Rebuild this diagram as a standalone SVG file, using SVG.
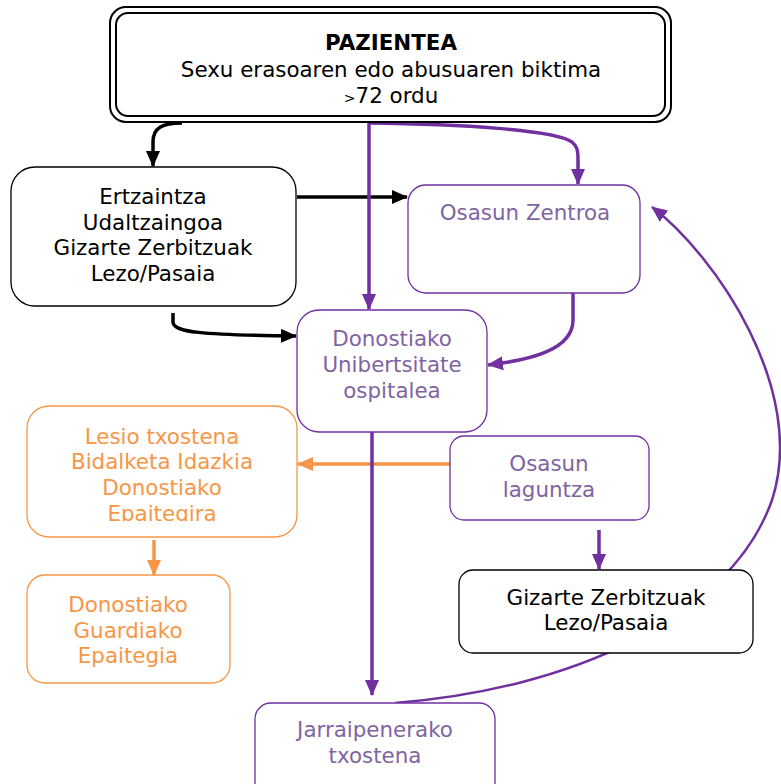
<svg xmlns="http://www.w3.org/2000/svg" width="781" height="784" viewBox="0 0 781 784">
<style>
text{font-family:"DejaVu Sans","Verdana",sans-serif;font-size:21.4px;text-anchor:middle}
.bk{fill:#000}
.pu{fill:#8064A2}
.or{fill:#F79646}
.nb{fill:#fff;stroke:#000;stroke-width:1.3}
.np{fill:#fff;stroke:#7030A0;stroke-width:1.3}
.no{fill:#fff;stroke:#F79646;stroke-width:1.3}
.cb{fill:none;stroke:#000;stroke-width:3.5}
.cp{fill:none;stroke:#7030A0;stroke-width:3.5}
.co{fill:none;stroke:#F79646;stroke-width:3.5}
.ct{fill:none;stroke:#7030A0;stroke-width:2.5}
</style>
<defs>
<marker id="ab" markerUnits="userSpaceOnUse" markerWidth="16" markerHeight="14" viewBox="0 0 16 14" refX="15" refY="7" orient="auto"><path d="M0,0 L16,7 L0,14 z" fill="#000"/></marker>
<marker id="ap" markerUnits="userSpaceOnUse" markerWidth="16" markerHeight="14" viewBox="0 0 16 14" refX="15" refY="7" orient="auto"><path d="M0,0 L16,7 L0,14 z" fill="#7030A0"/></marker>
<marker id="ao" markerUnits="userSpaceOnUse" markerWidth="16" markerHeight="14" viewBox="0 0 16 14" refX="15" refY="7" orient="auto"><path d="M0,0 L16,7 L0,14 z" fill="#F79646"/></marker>
<clipPath id="clipL"><rect x="27" y="406" width="271" height="115"/></clipPath>
</defs>
<g id="connectors">
<path class="ct" d="M395,703 C565,690 730,620 772,500 C808,390 715,255 652,207" marker-end="url(#ap)"/>
<path class="cb" d="M182,123 C162,123 153,128 153,142 L153,166" marker-end="url(#ab)"/>
<path class="cb" d="M297,197 L407,197" marker-end="url(#ab)"/>
<path class="cb" d="M173,313 L173,322 C173,332 200,335 296,336" marker-end="url(#ab)"/>
<path class="cp" d="M369,122 L369,309" marker-end="url(#ap)"/>
<path class="cp" d="M369,123 C460,124 555,130 572,142 C577,146 578,150 578,160 L578,184" marker-end="url(#ap)"/>
<path class="cp" d="M573,293 L573,320 C573,350 530,360 488,365" marker-end="url(#ap)"/>
<path class="cp" d="M459,393 L459,430" marker-end="url(#ap)"/>
<path class="co" d="M450,464 L298,464" marker-end="url(#ao)"/>
<path class="co" d="M154,540 L154,575" marker-end="url(#ao)"/>
<path class="cp" d="M372,429 L372,695" marker-end="url(#ap)"/>
<path class="cp" d="M599,530 L599,569" marker-end="url(#ap)"/>
</g>
<g id="pazientea">
<rect x="110" y="7" width="561" height="115" rx="16" fill="#fff" stroke="#000" stroke-width="2"/>
<rect x="116" y="13" width="549" height="103" rx="12" fill="none" stroke="#000" stroke-width="2"/>
<text x="391" y="50" class="bk" font-weight="bold">PAZIENTEA</text>
<text x="391" y="77" class="bk">Sexu erasoaren edo abusuaren biktima</text>
<text x="391" y="103" class="bk"><tspan font-size="14">&gt;</tspan>72 ordu</text>
</g>
<g id="ertzaintza">
<rect class="nb" x="11" y="167" width="285" height="139" rx="24"/>
<text class="bk" x="153" y="204">Ertzaintza</text>
<text class="bk" x="153" y="230">Udaltzaingoa</text>
<text class="bk" x="153" y="255">Gizarte Zerbitzuak</text>
<text class="bk" x="153" y="281">Lezo/Pasaia</text>
</g>
<g id="osasun-zentroa">
<rect class="np" x="408" y="185" width="232" height="108" rx="18"/>
<text class="pu" x="525" y="220">Osasun Zentroa</text>
</g>
<g id="donostiako-ospitalea">
<rect class="np" x="297" y="310" width="190" height="122" rx="22"/>
<text class="pu" x="392" y="346">Donostiako</text>
<text class="pu" x="392" y="372">Unibertsitate</text>
<text class="pu" x="392" y="398">ospitalea</text>
</g>
<g id="osasun-laguntza">
<rect class="np" x="450" y="436" width="199" height="84" rx="14"/>
<text class="pu" x="549" y="471">Osasun</text>
<text class="pu" x="549" y="497">laguntza</text>
</g>
<g id="lesio-txostena">
<rect class="no" x="27" y="406" width="270" height="131" rx="22"/>
<g clip-path="url(#clipL)">
<text class="or" x="162" y="444">Lesio txostena</text>
<text class="or" x="162" y="469">Bidalketa Idazkia</text>
<text class="or" x="162" y="495">Donostiako</text>
<text class="or" x="162" y="521">Epaitegira</text>
</g>
</g>
<g id="guardiako-epaitegia">
<rect class="no" x="27" y="575" width="203" height="108" rx="18"/>
<text class="or" x="128" y="612">Donostiako</text>
<text class="or" x="128" y="638">Guardiako</text>
<text class="or" x="128" y="663">Epaitegia</text>
</g>
<g id="gizarte-zerbitzuak">
<rect class="nb" x="459" y="570" width="294" height="83" rx="14"/>
<text class="bk" x="606" y="605">Gizarte Zerbitzuak</text>
<text class="bk" x="606" y="630">Lezo/Pasaia</text>
</g>
<g id="jarraipenerako">
<rect class="np" x="255" y="703" width="240" height="100" rx="16"/>
<text class="pu" x="375" y="737">Jarraipenerako</text>
<text class="pu" x="375" y="763">txostena</text>
</g>
</svg>
